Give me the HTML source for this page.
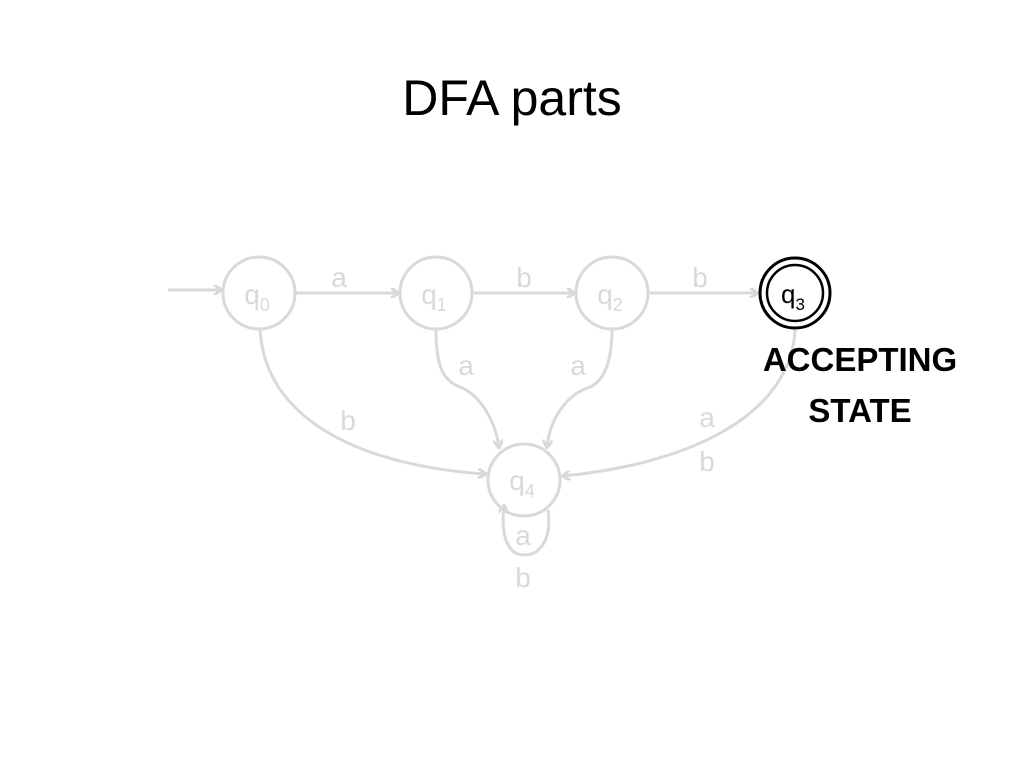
<!DOCTYPE html>
<html><head><meta charset="utf-8"><style>
html,body{margin:0;padding:0;background:#fff;}
body{width:1024px;height:768px;position:relative;overflow:hidden;font-family:"Liberation Sans",sans-serif;}
</style></head><body>
<svg width="1024" height="768" viewBox="0 0 1024 768" xmlns="http://www.w3.org/2000/svg" style="position:absolute;left:0;top:0">
<defs>
<marker id="ar" markerWidth="10" markerHeight="10" refX="8" refY="5" orient="auto" markerUnits="userSpaceOnUse">
<path d="M1,0 L9,5 L1,10" fill="none" stroke="#d9d9d9" stroke-width="3"/>
</marker>
</defs>
<text x="512" y="115" text-anchor="middle" font-family="Liberation Sans, sans-serif" font-size="50" fill="#000">DFA parts</text>
<g fill="none" stroke="#d9d9d9" stroke-width="3">
<circle cx="259" cy="293" r="36"/>
<circle cx="436" cy="293" r="36"/>
<circle cx="612" cy="293" r="36"/>
<circle cx="524" cy="480" r="36"/>
<line x1="168" y1="290" x2="221" y2="290" marker-end="url(#ar)"/>
<line x1="296" y1="293" x2="398" y2="293" marker-end="url(#ar)"/>
<line x1="473" y1="293" x2="574" y2="293" marker-end="url(#ar)"/>
<line x1="649" y1="293" x2="757" y2="293" marker-end="url(#ar)"/>
<path d="M260,329 C265,420 360,465 485,474" marker-end="url(#ar)"/>
<path d="M436,329 C436,360 440,380 460,387 C480,395 495,420 499,447" marker-end="url(#ar)"/>
<path d="M612,329 C612,360 605,380 590,387 C565,395 550,420 547,447" marker-end="url(#ar)"/>
<path d="M795,330 C790,420 680,465 563,476" marker-end="url(#ar)"/>
<path d="M548,510 C552,540 540,555 524,555 C510,555 500,540 504,506" marker-end="url(#ar)"/>
</g>
<circle cx="795" cy="293" r="35" fill="none" stroke="#000" stroke-width="3"/>
<circle cx="795" cy="293" r="28" fill="none" stroke="#000" stroke-width="2.5"/>
<g font-family="Liberation Sans, sans-serif" font-size="28" fill="#d9d9d9" text-anchor="middle">
<text x="257" y="304">q<tspan font-size="18" dy="7">0</tspan></text>
<text x="434" y="304">q<tspan font-size="18" dy="7">1</tspan></text>
<text x="610" y="304">q<tspan font-size="18" dy="7">2</tspan></text>
<text x="522" y="490">q<tspan font-size="18" dy="7">4</tspan></text>
<text x="339" y="287">a</text>
<text x="524" y="287">b</text>
<text x="700" y="287">b</text>
<text x="466" y="375">a</text>
<text x="578" y="375">a</text>
<text x="348" y="430">b</text>
<text x="707" y="427">a</text>
<text x="707" y="471">b</text>
<text x="523" y="545">a</text>
<text x="523" y="587">b</text>
</g>
<text x="793" y="303" font-family="Liberation Sans, sans-serif" font-size="26" fill="#000" text-anchor="middle">q<tspan font-size="17" dy="7">3</tspan></text>
<g font-family="Liberation Sans, sans-serif" font-size="33" font-weight="bold" fill="#000" text-anchor="middle">
<text x="860" y="371">ACCEPTING</text>
<text x="860" y="422">STATE</text>
</g>
</svg>
</body></html>
